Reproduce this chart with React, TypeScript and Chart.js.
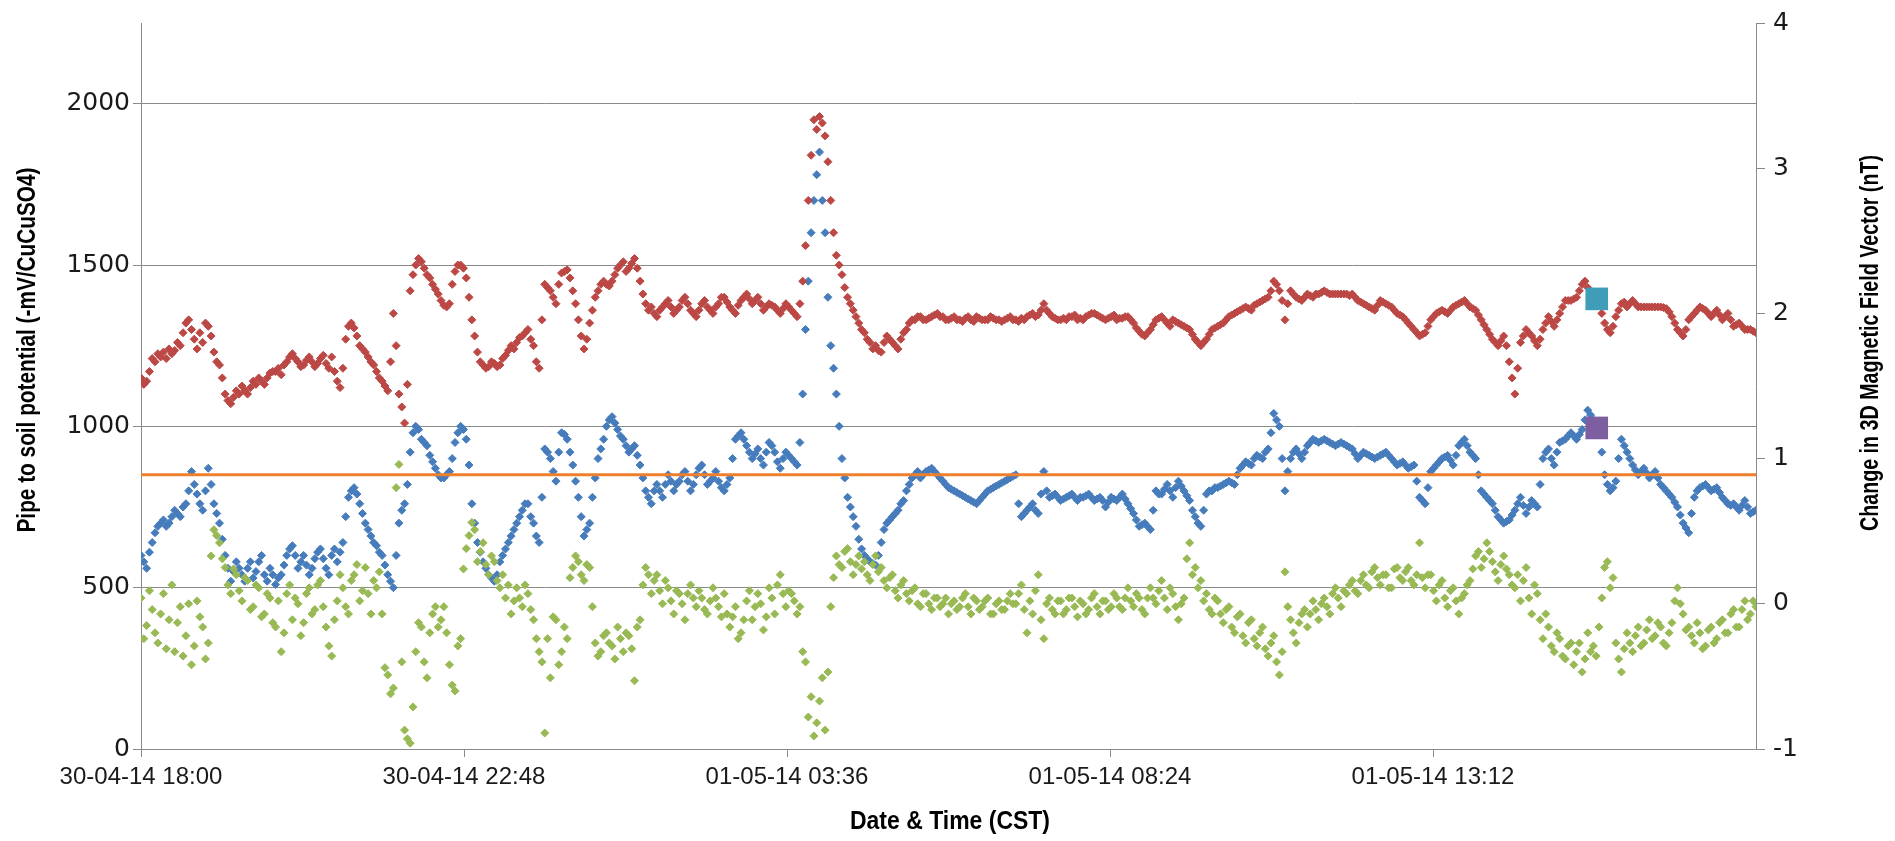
import React, { useEffect, useRef } from 'react';
import { Chart, registerables } from 'chart.js';

Chart.register(...registerables);

// ---- data (x = minutes after 30-04-14 18:00, one reading every 2.5 minutes) ----
const STEP_MINUTES = 2.5;
const X_TICKS = [0, 288, 576, 864, 1152, 1440];
const X_TICK_LABELS = ['30-04-14 18:00', '30-04-14 22:48', '01-05-14 03:36', '01-05-14 08:24', '01-05-14 13:12', ''];
const LEFT_TICKS = [0, 500, 1000, 1500, 2000];
const RIGHT_TICKS = [-1, 0, 1, 2, 3, 4];

// Pipe to soil potential, site A (red) — one row per hour
const PSP_A = [
  1150, 1130, 1140, 1170, 1210, 1200, 1225, 1215, 1230, 1210, 1240, 1225, 1235, 1260, 1250, 1290, 1320, 1330, 1300, 1270, 1240, 1290, 1260, 1320,
  1310, 1280, 1230, 1200, 1190, 1150, 1100, 1080, 1070, 1090, 1110, 1100, 1125, 1110, 1100, 1120, 1140, 1130, 1150, 1140, 1130, 1150, 1165, 1170,
  1170, 1180, 1160, 1190, 1200, 1215, 1225, 1210, 1200, 1185, 1190, 1205, 1215, 1200, 1185, 1195, 1210, 1220, 1195, 1180, 1215, 1170, 1140, 1120,
  1180, 1270, 1310, 1320, 1305, 1280, 1250, 1240, 1230, 1215, 1200, 1190, 1170, 1150, 1140, 1125, 1110, 1200, 1350, 1250, 1100, 1060, 1010, 1130,
  1420, 1470, 1500, 1520, 1510, 1490, 1470, 1460, 1440, 1425, 1410, 1390, 1375, 1370, 1380, 1440, 1480, 1500, 1500, 1490, 1460, 1400, 1330, 1280,
  1230, 1200, 1190, 1180, 1185, 1200, 1195, 1185, 1190, 1210, 1220, 1235, 1250, 1240, 1260, 1275, 1280, 1290, 1300, 1270, 1250, 1200, 1180, 1330,
  1440, 1430, 1420, 1400, 1380, 1440, 1475, 1480, 1485, 1460, 1420, 1380, 1330, 1280, 1240, 1270, 1320, 1360, 1400, 1420, 1440, 1450, 1440, 1435,
  1450, 1470, 1490, 1500, 1510, 1480, 1490, 1505, 1520, 1490, 1450, 1410, 1380, 1360, 1370, 1350, 1340, 1360, 1370, 1380, 1390, 1370, 1350, 1360,
  1370, 1390, 1400, 1380, 1360, 1350, 1340, 1360, 1380, 1390, 1370, 1360, 1350, 1370, 1380, 1400, 1400, 1385, 1370, 1360, 1350, 1375, 1390, 1400,
  1410, 1395, 1380, 1390, 1400, 1380, 1360, 1370, 1380, 1375, 1370, 1360, 1350, 1365, 1380, 1370, 1360, 1350, 1340, 1380, 1450, 1560, 1700, 1840,
  1950, 1920, 1960, 1940, 1900, 1820, 1700, 1600, 1530, 1500, 1470, 1430, 1400, 1380, 1360, 1340, 1320, 1300, 1290, 1270, 1260, 1240, 1250, 1235,
  1230, 1260, 1280, 1270, 1260, 1250, 1240, 1270, 1290, 1300, 1320, 1330, 1330, 1340, 1340, 1330, 1330, 1335, 1340, 1345, 1350, 1340, 1340, 1330,
  1330, 1335, 1340, 1330, 1330, 1325, 1335, 1340, 1330, 1325, 1340, 1335, 1330, 1330, 1330, 1340, 1335, 1330, 1330, 1325, 1330, 1335, 1340, 1330,
  1330, 1325, 1335, 1330, 1340, 1345, 1350, 1340, 1345, 1360, 1380, 1360, 1350, 1340, 1335, 1330, 1330, 1335, 1330, 1340, 1340, 1345, 1330, 1335,
  1330, 1340, 1345, 1350, 1350, 1345, 1340, 1335, 1330, 1335, 1340, 1345, 1330, 1335, 1335, 1340, 1340, 1330, 1320, 1305, 1295, 1285, 1280, 1290,
  1300, 1315, 1330, 1335, 1340, 1330, 1320, 1310, 1330, 1325, 1320, 1315, 1310, 1305, 1300, 1285, 1270, 1260, 1250, 1260, 1270, 1285, 1300, 1305,
  1310, 1315, 1320, 1330, 1340, 1345, 1350, 1355, 1360, 1365, 1370, 1365, 1360, 1375, 1380, 1385, 1390, 1395, 1400, 1420, 1450, 1440, 1420, 1390,
  1330, 1380, 1420, 1410, 1400, 1395, 1390, 1400, 1410, 1405, 1400, 1410, 1410, 1415, 1420, 1415, 1410, 1410, 1410, 1410, 1410, 1410, 1410, 1405,
  1410, 1400, 1390, 1385, 1380, 1375, 1370, 1365, 1360, 1375, 1390, 1385, 1380, 1375, 1370, 1360, 1350, 1345, 1340, 1330, 1320, 1310, 1300, 1290,
  1280, 1285, 1290, 1310, 1330, 1340, 1350, 1355, 1360, 1355, 1350, 1360, 1370, 1375, 1380, 1385, 1390, 1380, 1370, 1365, 1360, 1345, 1330, 1315,
  1300, 1285, 1270, 1260, 1250, 1265, 1280, 1250, 1200, 1150, 1100, 1180, 1260, 1280, 1300, 1290, 1280, 1265, 1250, 1270, 1300, 1320, 1340, 1325,
  1310, 1330, 1350, 1370, 1390, 1390, 1390, 1395, 1400, 1420, 1440, 1450, 1430, 1415, 1400, 1395, 1390, 1350, 1320, 1300, 1290, 1310, 1340, 1360,
  1380, 1385, 1370, 1380, 1390, 1380, 1370, 1370, 1370, 1370, 1370, 1370, 1370, 1370, 1370, 1368, 1365, 1355, 1340, 1320, 1300, 1290, 1280, 1300,
  1330, 1340, 1350, 1360, 1370, 1365, 1360, 1350, 1340, 1350, 1360, 1345, 1330, 1340, 1350, 1330, 1310, 1315, 1320, 1310, 1300, 1300, 1300, 1295,
  1290,
];

// Pipe to soil potential, site B (blue)
const PSP_B = [
  600, 580, 560, 610, 640, 670, 690, 700, 710, 690, 700, 720, 740, 730, 720, 750, 760, 800, 860, 820, 790, 760, 740, 800,
  870, 820, 760, 730, 700, 650, 600, 560, 520, 550, 580, 560, 540, 520, 560, 580, 530, 550, 580, 600, 540, 520, 560, 540,
  510, 530, 540, 570, 600, 620, 630, 600, 560, 580, 600, 570, 540, 560, 590, 610, 620, 590, 560, 540, 600, 620, 580, 610,
  640, 720, 780, 800, 810, 790, 760, 730, 700, 680, 660, 640, 630, 610, 600, 570, 540, 520, 500, 600, 700, 740, 760, 820,
  920, 980, 1000, 990, 960, 950, 940, 910, 890, 870, 850, 840, 840, 850, 860, 900, 950, 980, 1000, 990, 960, 880, 760, 700,
  640, 610, 580, 560, 540, 530, 520, 540, 580, 600, 620, 640, 660, 680, 700, 720, 740, 760, 760, 720, 700, 660, 640, 780,
  930, 920, 900, 860, 830, 920, 980, 975, 960, 920, 880, 830, 780, 720, 660, 680, 700, 780, 840, 900, 930, 960, 1000, 1020,
  1030, 1010, 990, 970, 960, 940, 920, 930, 940, 910, 880, 840, 800, 780, 760, 800, 820, 800, 780, 820, 850, 830, 800, 820,
  830, 850, 860, 830, 800, 820, 850, 870, 880, 850, 820, 830, 840, 860, 830, 810, 800, 820, 840, 900, 960, 970, 980, 960,
  940, 920, 900, 915, 930, 900, 880, 920, 950, 940, 920, 890, 870, 900, 920, 910, 900, 890, 880, 950, 1100, 1300, 1450, 1600,
  1700, 1780, 1850, 1700, 1600, 1400, 1250, 1180, 1100, 1000, 900, 840, 780, 750, 720, 690, 650, 620, 600, 590, 580, 575, 570, 600,
  640, 680, 700, 710, 720, 730, 740, 760, 770, 800, 820, 840, 850, 860, 840, 850, 860, 865, 870, 860, 850, 840, 830, 820,
  810, 805, 800, 795, 790, 785, 780, 775, 770, 765, 760, 770, 780, 790, 800, 805, 810, 815, 820, 825, 830, 835, 840, 845,
  850, 760, 720, 730, 740, 750, 760, 740, 730, 790, 860, 800, 780, 785, 790, 780, 770, 775, 780, 785, 790, 780, 770, 780,
  780, 785, 790, 780, 770, 775, 780, 770, 750, 765, 780, 775, 770, 780, 790, 775, 760, 745, 730, 710, 690, 695, 700, 690,
  680, 740, 800, 790, 790, 805, 820, 800, 780, 810, 830, 815, 800, 785, 770, 740, 720, 700, 690, 740, 790, 800, 800, 810,
  810, 815, 820, 825, 830, 825, 820, 850, 870, 880, 890, 885, 880, 900, 910, 905, 900, 920, 930, 980, 1040, 1020, 1000, 900,
  800, 860, 900, 920, 930, 915, 900, 920, 940, 950, 960, 955, 950, 955, 960, 955, 950, 945, 940, 945, 950, 945, 940, 935,
  930, 915, 900, 910, 920, 915, 910, 905, 900, 905, 910, 915, 920, 910, 900, 890, 880, 885, 890, 880, 870, 875, 880, 830,
  780, 770, 760, 810, 860, 870, 880, 890, 900, 905, 910, 895, 880, 910, 940, 950, 960, 940, 920, 910, 900, 850, 800, 790,
  780, 770, 760, 740, 720, 710, 700, 705, 710, 725, 740, 760, 780, 755, 730, 750, 770, 760, 750, 820, 900, 920, 930, 900,
  880, 920, 950, 955, 960, 970, 980, 970, 960, 975, 990, 1020, 1050, 1035, 1020, 1010, 1000, 920, 850, 820, 800, 810, 830, 900,
  960, 940, 920, 900, 880, 865, 850, 860, 870, 855, 840, 850, 860, 840, 820, 810, 800, 790, 780, 765, 750, 725, 700, 685,
  670, 730, 780, 800, 810, 815, 820, 810, 800, 805, 810, 795, 780, 770, 760, 755, 760, 750, 740, 755, 770, 750, 730, 735,
  740,
];

// Change in 3D magnetic field vector, nT (green, right axis)
const MAG_NT = [
  0.04, -0.24, -0.15, 0.09, -0.04, -0.2, -0.27, -0.07, 0.07, -0.31, -0.11, 0.13, -0.33, -0.13, -0.02, -0.36, -0.22, 0.0, -0.42, -0.29, 0.02, -0.09, -0.16, -0.38,
  -0.27, 0.33, 0.51, 0.47, 0.42, 0.31, 0.25, 0.13, 0.07, 0.24, 0.2, 0.09, 0.02, 0.18, 0.16, -0.04, -0.02, 0.13, 0.11, -0.09, -0.07, 0.07, 0.04, -0.13,
  -0.16, 0.02, -0.33, -0.2, 0.07, 0.13, -0.11, 0.04, 0.0, -0.22, -0.13, 0.07, 0.11, -0.07, -0.04, 0.13, 0.16, -0.02, -0.16, -0.29, -0.36, -0.11, 0.02, 0.2,
  0.11, -0.02, -0.07, 0.16, 0.2, 0.27, 0.02, 0.09, 0.25, 0.07, -0.07, 0.16, 0.11, 0.22, -0.07, -0.44, -0.49, -0.62, -0.58, 0.8, 0.96, -0.4, -0.87, -0.93,
  -0.96, -0.71, -0.33, -0.13, -0.16, -0.4, -0.51, -0.2, -0.07, -0.02, -0.16, -0.11, -0.02, -0.2, -0.42, -0.56, -0.6, -0.29, -0.24, 0.24, 0.38, 0.47, 0.56, 0.51,
  0.29, 0.36, 0.42, 0.27, 0.2, 0.33, 0.29, 0.16, 0.11, 0.2, 0.04, 0.13, -0.07, 0.02, 0.11, 0.04, -0.02, 0.13, 0.07, -0.04, -0.11, -0.24, -0.33, -0.4,
  -0.89, -0.24, -0.51, -0.09, -0.11, -0.42, -0.33, -0.16, -0.24, 0.18, 0.25, 0.33, 0.29, 0.2, 0.16, 0.27, 0.25, -0.02, -0.27, -0.36, -0.33, -0.22, -0.2, -0.27,
  -0.29, -0.38, -0.16, -0.24, -0.33, -0.2, -0.22, -0.31, -0.53, -0.16, -0.11, 0.13, 0.25, 0.2, 0.07, 0.16, 0.2, 0.09, 0.0, 0.16, 0.11, 0.02, -0.07, 0.09,
  0.07, 0.0, -0.11, 0.07, 0.13, 0.04, -0.02, 0.09, 0.04, -0.04, -0.07, 0.02, 0.11, 0.04, -0.02, -0.09, 0.07, -0.07, -0.16, -0.09, -0.02, -0.24, -0.2, -0.11,
  0.02, 0.09, -0.11, -0.02, 0.07, 0.0, -0.18, -0.09, 0.11, 0.04, -0.07, 0.13, 0.2, 0.07, -0.02, 0.09, 0.07, 0.02, -0.07, -0.02, -0.33, -0.4, -0.78, -0.64,
  -0.91, -0.82, -0.67, -0.51, -0.87, -0.47, -0.02, 0.18, 0.33, 0.27, 0.25, 0.36, 0.38, 0.29, 0.2, 0.27, 0.33, 0.24, 0.29, 0.2, 0.16, 0.27, 0.33, 0.22,
  0.25, 0.16, 0.11, 0.18, 0.2, 0.09, 0.04, 0.13, 0.16, 0.07, 0.02, 0.09, 0.11, 0.0, -0.02, 0.07, 0.07, 0.0, -0.04, 0.04, 0.04, -0.02, 0.0, 0.04,
  -0.07, 0.0, 0.02, -0.04, -0.02, 0.04, 0.07, -0.02, -0.07, 0.04, 0.02, -0.04, -0.02, 0.02, 0.04, -0.07, -0.07, 0.0, 0.02, -0.04, -0.04, 0.02, 0.07, 0.0,
  0.0, 0.07, 0.13, -0.04, -0.2, 0.02, -0.07, 0.09, 0.2, -0.11, -0.24, 0.0, 0.04, -0.04, -0.07, 0.02, 0.02, -0.07, -0.04, 0.04, 0.04, -0.02, -0.09, 0.02,
  0.0, -0.07, -0.04, 0.04, 0.07, -0.02, -0.07, 0.02, 0.02, -0.04, -0.02, 0.07, 0.04, -0.02, -0.04, 0.04, 0.11, 0.02, -0.02, 0.07, 0.04, -0.04, -0.07, 0.04,
  0.11, 0.04, 0.0, 0.09, 0.16, 0.04, -0.04, 0.11, 0.07, -0.02, -0.11, 0.0, 0.04, 0.31, 0.42, 0.2, 0.25, 0.11, 0.16, 0.02, 0.07, -0.04, -0.07, 0.04,
  0.02, -0.07, -0.13, -0.04, -0.02, -0.16, -0.2, -0.09, -0.07, -0.22, -0.27, -0.13, -0.11, -0.24, -0.29, -0.2, -0.16, -0.31, -0.36, -0.27, -0.22, -0.4, -0.49, -0.33,
  0.22, -0.02, -0.11, -0.2, -0.27, -0.13, -0.07, -0.04, -0.16, -0.07, 0.02, -0.04, -0.11, 0.0, 0.04, -0.02, -0.07, 0.07, 0.11, 0.04, -0.02, 0.09, 0.07, 0.13,
  0.16, 0.09, 0.07, 0.16, 0.2, 0.13, 0.11, 0.22, 0.25, 0.18, 0.13, 0.2, 0.2, 0.11, 0.11, 0.24, 0.25, 0.18, 0.16, 0.22, 0.25, 0.16, 0.13, 0.2,
  0.42, 0.18, 0.11, 0.2, 0.2, 0.09, 0.02, 0.13, 0.16, 0.04, -0.02, 0.09, 0.11, 0.02, -0.07, 0.04, 0.07, 0.13, 0.16, 0.24, 0.33, 0.36, 0.25, 0.31,
  0.42, 0.36, 0.29, 0.22, 0.16, 0.27, 0.33, 0.24, 0.2, 0.13, 0.11, 0.2, 0.02, 0.16, 0.25, 0.04, -0.07, 0.13, 0.07, -0.11, -0.24, -0.07, -0.16, -0.29,
  -0.33, -0.2, -0.24, -0.36, -0.38, -0.29, -0.27, -0.42, -0.33, -0.27, -0.47, -0.38, -0.2, -0.33, -0.29, -0.36, -0.16, 0.04, 0.25, 0.29, 0.11, 0.18, -0.27, -0.38,
  -0.47, -0.31, -0.2, -0.27, -0.33, -0.22, -0.16, -0.29, -0.27, -0.18, -0.11, -0.24, -0.22, -0.13, -0.16, -0.27, -0.29, -0.2, -0.13, 0.02, 0.11, 0.0, -0.07, -0.18,
  -0.16, -0.22, -0.27, -0.13, -0.2, -0.31, -0.29, -0.18, -0.16, -0.27, -0.24, -0.13, -0.11, -0.2, -0.2, -0.07, -0.04, -0.16, -0.16, -0.04, 0.02, -0.11, -0.07, 0.02,
  -0.02,
];

const THRESHOLD = 850;
const THRESHOLD_SPAN = [0, 1440];
const MARK_TIME = 1298;
const MARK_A = 1395;
const MARK_B = 995;

const TITLE_LEFT = 'Pipe to soil potential (-mV/CuCuSO4)';
const TITLE_RIGHT = 'Change in 3D Magnetic Field Vector (nT)';
const TITLE_X = 'Date & Time (CST)';

// ---- styling ----
const FONT = "'Liberation Sans', Arial, sans-serif";
const NUM_FONT = "'DejaVu Sans', 'Liberation Sans', sans-serif";
const AXIS = '#8a8a8a';
const TEXT = '#1a1a1a';

const toPoints = (arr: number[]) => arr.map((y, i) => ({ x: i * STEP_MINUTES, y }));

const drawFitted = (ctx: CanvasRenderingContext2D, text: string, cx: number, cy: number, width: number, rot: number) => {
  ctx.save();
  ctx.translate(cx, cy);
  ctx.rotate(rot);
  const w = ctx.measureText(text).width;
  ctx.scale(width / w, 1);
  ctx.textAlign = 'center';
  ctx.textBaseline = 'middle';
  ctx.fillText(text, 0, 0);
  ctx.restore();
};

const titlePlugin = {
  id: 'axisTitles',
  afterDraw(chart: any) {
    const ctx = chart.ctx as CanvasRenderingContext2D;
    ctx.save();
    ctx.fillStyle = '#000';
    ctx.font = `bold 25px ${FONT}`;
    drawFitted(ctx, TITLE_LEFT, 28, 350, 365, -Math.PI / 2);
    drawFitted(ctx, TITLE_RIGHT, 1871, 343, 376, -Math.PI / 2);
    drawFitted(ctx, TITLE_X, 950, 822, 200, 0);
    ctx.restore();
  },
};

export default function App() {
  const ref = useRef<HTMLCanvasElement>(null);

  useEffect(() => {
    document.body.style.margin = '0';
    const canvas = ref.current;
    if (!canvas) return;

    const scatterStyle = (color: string, order: number) => ({
      type: 'scatter' as const,
      order,
      pointStyle: 'rectRot',
      pointRadius: 4,
      pointBorderWidth: 1,
      pointBackgroundColor: color,
      pointBorderColor: color,
      backgroundColor: color,
      borderColor: color,
      showLine: false,
    });

    const chart = new Chart(canvas, {
      type: 'scatter',
      data: {
        datasets: [
          {
            type: 'scatter',
            order: 0,
            data: [{ x: MARK_TIME, y: MARK_A }],
            yAxisID: 'y',
            pointStyle: 'rect',
            pointRadius: 16,
            pointBorderWidth: 0,
            pointBackgroundColor: '#3f9db7',
            backgroundColor: '#3f9db7',
          },
          {
            type: 'scatter',
            order: 1,
            data: [{ x: MARK_TIME, y: MARK_B }],
            yAxisID: 'y',
            pointStyle: 'rect',
            pointRadius: 16,
            pointBorderWidth: 0,
            pointBackgroundColor: '#7d5ea0',
            backgroundColor: '#7d5ea0',
          },
          {
            type: 'line',
            order: 2,
            data: THRESHOLD_SPAN.map((x) => ({ x, y: THRESHOLD })),
            yAxisID: 'y',
            borderColor: '#ee7f2d',
            borderWidth: 3,
            pointRadius: 0,
            fill: false,
          },
          { ...scatterStyle('#98b954', 3), data: toPoints(MAG_NT), yAxisID: 'y2' },
          { ...scatterStyle('#bc4845', 4), data: toPoints(PSP_A), yAxisID: 'y' },
          { ...scatterStyle('#467cbc', 5), data: toPoints(PSP_B), yAxisID: 'y' },
        ] as any,
      },
      options: {
        responsive: false,
        animation: false,
        devicePixelRatio: 1,
        layout: { padding: { top: 18, left: 0, right: 0, bottom: 0 } },
        plugins: { legend: { display: false }, tooltip: { enabled: false } },
        scales: {
          x: {
            type: 'linear',
            min: 0,
            max: 1440,
            afterBuildTicks: (s: any) => {
              s.ticks = X_TICKS.map((v) => ({ value: v }));
            },
            afterFit: (s: any) => {
              s.height = 92;
            },
            ticks: {
              autoSkip: false,
              maxRotation: 0,
              minRotation: 0,
              padding: 6,
              color: TEXT,
              font: { family: FONT, size: 24 },
              callback: (v: any) => X_TICK_LABELS[X_TICKS.indexOf(Number(v))] ?? '',
            },
            grid: {
              drawOnChartArea: false,
              drawTicks: true,
              tickLength: 8,
              color: (c: any) => (c.tick && c.tick.value === 1440 ? 'rgba(0,0,0,0)' : AXIS),
            },
            border: { color: AXIS, width: 1 },
          },
          y: {
            position: 'left',
            min: 0,
            max: 2250,
            afterBuildTicks: (s: any) => {
              s.ticks = LEFT_TICKS.map((v) => ({ value: v }));
            },
            afterFit: (s: any) => {
              s.width = 141;
            },
            ticks: {
              padding: 3,
              color: TEXT,
              font: { family: NUM_FONT, size: 25 },
              callback: (v: any) => String(v),
            },
            grid: { color: AXIS, lineWidth: 1, tickLength: 8, drawTicks: true },
            border: { color: AXIS, width: 1 },
          },
          y2: {
            position: 'right',
            min: -1,
            max: 4,
            afterBuildTicks: (s: any) => {
              s.ticks = RIGHT_TICKS.map((v) => ({ value: v }));
            },
            afterFit: (s: any) => {
              s.width = 139;
            },
            ticks: {
              padding: 8,
              color: TEXT,
              font: { family: NUM_FONT, size: 25 },
              callback: (v: any) => String(v),
            },
            grid: { drawOnChartArea: false, color: AXIS, tickLength: 9, drawTicks: true },
            border: { color: AXIS, width: 1 },
          },
        },
      } as any,
      plugins: [titlePlugin],
    });

    return () => chart.destroy();
  }, []);

  return (
    <div style={{ width: 1895, height: 841 }}>
      <canvas ref={ref} width={1895} height={841} style={{ display: 'block', width: 1895, height: 841 }} />
    </div>
  );
}
